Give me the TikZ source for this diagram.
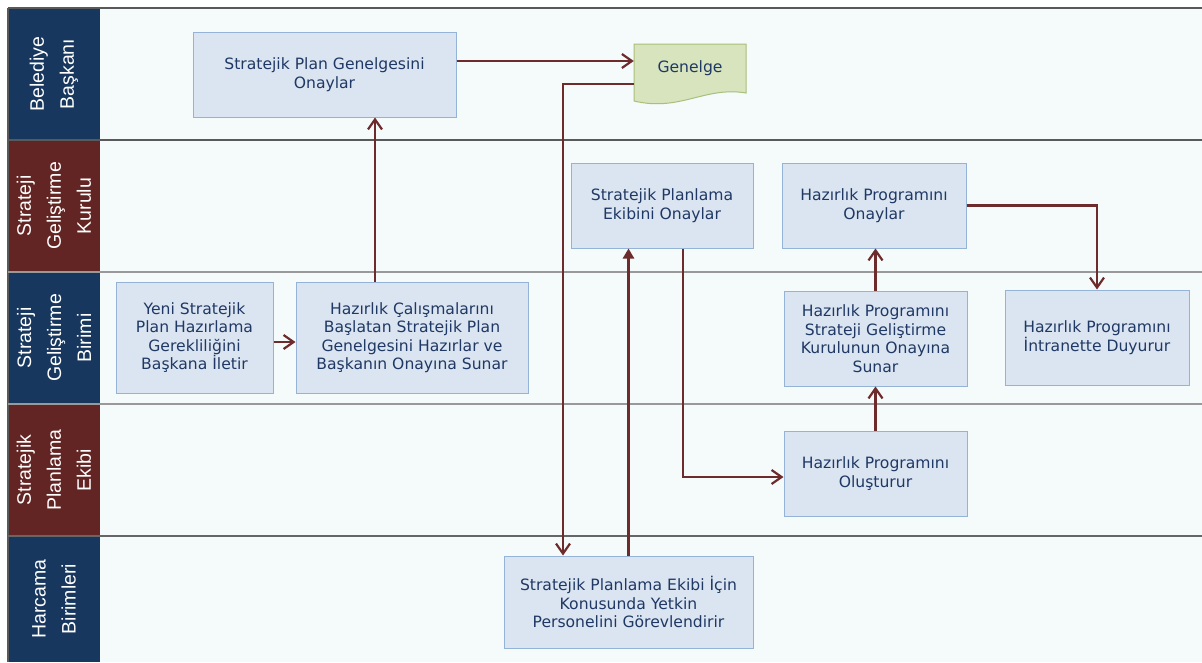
\documentclass[tikz,border=0pt]{standalone}
\usepackage{fontspec}
\setmainfont{DejaVu Sans}
\newfontfamily\lanefont{Liberation Sans}
\usetikzlibrary{arrows.meta}

\definecolor{lanebg}{HTML}{F5FAFB}
\definecolor{navy}{HTML}{17375E}
\definecolor{wine}{HTML}{632523}
\definecolor{boxfill}{HTML}{DBE5F1}
\definecolor{boxline}{HTML}{95B3D7}
\definecolor{boxtext}{HTML}{1F3864}
\definecolor{flow}{HTML}{6E2B2B}
\definecolor{docfill}{HTML}{D7E4BD}
\definecolor{docline}{HTML}{A9BF7A}

\begin{document}
\begin{tikzpicture}[x=1pt, y=-1pt,
    box/.style={draw=boxline, fill=boxfill, line width=1pt, text=boxtext, align=center,
        font=\fontsize{15.6}{18.5}\selectfont, inner sep=0pt},
    lane/.style={rotate=90, text=white, align=center, font=\lanefont\fontsize{19.5}{30}\selectfont},
    flowline/.style={draw=flow, line width=2.4pt, -{Straight Barb[length=10pt,width=14pt,line width=2.2pt]}},
    flowfill/.style={draw=flow, line width=2.4pt, -{Triangle[length=10pt,width=11pt]}}]
    \useasboundingbox (0,0) rectangle (1202,662);

    % lane backgrounds
    \fill [lanebg] (100,8) rectangle (1202,662);
    \fill [navy] (8,8) rectangle (100,140);
    \fill [wine] (8,140) rectangle (100,272);
    \fill [navy] (8,272) rectangle (100,404);
    \fill [wine] (8,404) rectangle (100,536);
    \fill [navy] (8,536) rectangle (100,662);
    % lane borders
    \draw [gray!70!black, line width=1.5pt] (8,8) -- (1202,8);
    \draw [gray!70!black, line width=1.5pt] (8,8) -- (8,662);
    \draw [gray!70!black, line width=1.5pt] (8,140) -- (1202,140);
    \draw [gray!80, line width=1.5pt] (8,272) -- (1202,272);
    \draw [gray!80, line width=1.5pt] (8,404) -- (1202,404);
    \draw [gray!80!black, line width=1.2pt] (8,536) -- (1202,536);
    % lane names
    \node [lane] (baskan) at (54,74) {Belediye\\Başkanı};
    \node [lane] (kurul) at (54,206) {Strateji\\Geliştirme\\Kurulu};
    \node [lane] (birim) at (54,338) {Strateji\\Geliştirme\\Birimi};
    \node [lane] (ekip) at (54,470) {Stratejik\\Planlama\\Ekibi};
    \node [lane] (harcama) at (54,599) {Harcama\\Birimleri};

    % genelge document
    \filldraw [fill=docfill, draw=docline, line width=1pt] (634,44) -- (746,44) -- (746,93)
        .. controls (705,86) and (680,112) .. (634,101) -- cycle;
    \node [text=boxtext, font=\fontsize{15.6}{18.5}\selectfont, minimum width=112, minimum height=49] (genelge) at (690,68.5) {Genelge};

    % process steps
    \node [box, minimum width=263, minimum height=85] (spgo) at (324.5,74.5) {Stratejik Plan Genelgesini\\Onaylar};
    \node [box, minimum width=182, minimum height=85] (speo) at (662,205.5) {Stratejik Planlama\\Ekibini Onaylar};
    \node [box, minimum width=184, minimum height=85] (hpo) at (874,205.5) {Hazırlık Programını\\Onaylar};
    \node [box, minimum width=157, minimum height=111] (yeni) at (194.5,337.5) {Yeni Stratejik\\Plan Hazırlama\\Gerekliliğini\\Başkana İletir};
    \node [box, minimum width=232, minimum height=111] (hcal) at (412,337.5) {Hazırlık Çalışmalarını\\Başlatan Stratejik Plan\\Genelgesini Hazırlar ve\\Başkanın Onayına Sunar};
    \node [box, minimum width=183, minimum height=95] (hpsg) at (875.5,338.5) {Hazırlık Programını\\Strateji Geliştirme\\Kurulunun Onayına\\Sunar};
    \node [box, minimum width=184, minimum height=95] (hpid) at (1097,337.5) {Hazırlık Programını\\İntranette Duyurur};
    \node [box, minimum width=183, minimum height=85] (hpol) at (875.5,473.5) {Hazırlık Programını\\Oluşturur};
    \node [box, minimum width=249, minimum height=92] (hb) at (628.5,602) {Stratejik Planlama Ekibi İçin\\Konusunda Yetkin\\Personelini Görevlendirir};

    % connections
    \draw [flowline] ([yshift=-4.5pt]yeni.east) -- ([yshift=-4.5pt]hcal.west);
    \draw [flowline] ([xshift=-37pt]hcal.north) -- ([xshift=-37pt]hcal.north |- spgo.south);
    \draw [flowline] ([yshift=13.5pt]spgo.east) -- ([yshift=13.5pt]spgo.east -| genelge.west);
    \draw [flowline] ([yshift=-15.5pt]genelge.west) -| ([xshift=-65.5pt]hb.north);
    \draw [flowfill] (hb.north) -- (hb.north |- speo.south);
    \draw [flowline] ([xshift=21pt]speo.south) |- ([yshift=-3.5pt]hpol.west);
    \draw [flowline] (hpol.north) -- (hpsg.south);
    \draw [flowline] (hpsg.north) -- (hpsg.north |- hpo.south);
    \draw [flowline] (hpo.east) -| (hpid.north);
\end{tikzpicture}
\end{document}
